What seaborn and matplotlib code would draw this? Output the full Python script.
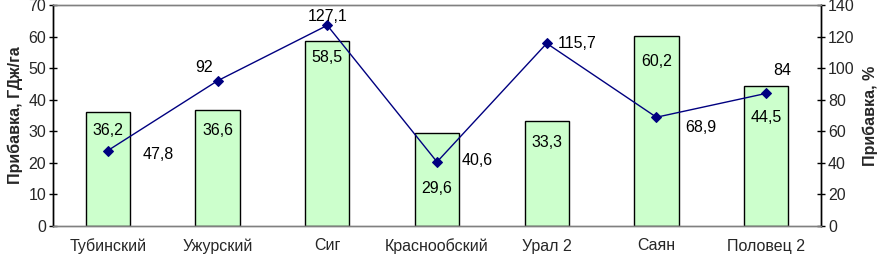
import matplotlib
matplotlib.use("Agg")
import matplotlib.pyplot as plt
import seaborn as sns
import pandas as pd

categories = ["Тубинский", "Ужурский", "Сиг", "Краснообский", "Урал 2", "Саян", "Половец 2"]
gain_gj = [36.2, 36.6, 58.5, 29.6, 33.3, 60.2, 44.5]
gain_pct = [47.8, 92, 127.1, 40.6, 115.7, 68.9, 84]
bar_labels = ["36,2", "36,6", "58,5", "29,6", "33,3", "60,2", "44,5"]
pct_labels = ["47,8", "92", "127,1", "40,6", "115,7", "68,9", "84"]

# label placement (style)
bar_label_y = [30.4, 30.1, 53.5, 12.0, 26.3, 52.0, 34.5]
pct_label_dx = [0.46, -0.12, 0.0, 0.37, 0.28, 0.40, 0.15]
pct_label_y = [45.0, 100.1, 132.4, 41.2, 115.9, 62.1, 98.8]

sns.set_style("white")
plt.rcParams['font.family'] = ['Liberation Sans', 'DejaVu Sans']

df = pd.DataFrame({"cat": categories, "gj": gain_gj, "pct": gain_pct})

fig = plt.figure(figsize=(8.84, 2.59), dpi=100)
ax = fig.add_axes([53/884, 33/259, 768/884, 221/259])
sns.barplot(data=df, x="cat", y="gj", ax=ax, color="#CCFFCC", edgecolor="black",
            linewidth=1.0, width=0.404, saturation=1)
ax.set_ylim(0, 70)
ax.set_xlim(-0.5, len(categories) - 0.5)
ax.set_yticks(range(0, 71, 10))
ax.set_xlabel("")
ax.set_ylabel("Прибавка, ГДж/га", fontsize=11.5, fontweight="bold", labelpad=4)

for i, (lab, yy) in enumerate(zip(bar_labels, bar_label_y)):
    ax.text(i, yy, lab, ha="center", va="center", fontsize=11.5, color="black")

ax2 = ax.twinx()
sns.lineplot(data=df, x="cat", y="pct", ax=ax2, sort=False, color="#000080",
             linewidth=1.0, marker="D", markersize=5, markeredgecolor="#000080")
ax2.set_ylim(0, 140)
ax2.set_yticks(range(0, 141, 20))
ax2.set_xlim(-0.5, len(categories) - 0.5)
ax2.set_ylabel("Прибавка, %", fontsize=11.5, fontweight="bold", labelpad=6)
ax2.set_xlabel("")

for i, (lab, dx, yy) in enumerate(zip(pct_labels, pct_label_dx, pct_label_y)):
    ax2.text(i + dx, yy, lab, ha="center", va="center", fontsize=11.5, color="black")

# spines
for a in (ax, ax2):
    a.spines["top"].set_color("#808080")
    a.spines["bottom"].set_color("#808080")
    a.spines["left"].set_color("black")
    a.spines["right"].set_color("black")
    for s in a.spines.values():
        s.set_linewidth(1.0)

ax.tick_params(axis="y", direction="inout", length=6, width=1, labelsize=11.5, pad=2, color="black")
ax2.tick_params(axis="y", direction="inout", length=6, width=1, labelsize=11.5, pad=2, color="black")

# x ticks between categories
ax.set_xticks([i - 0.5 for i in range(len(categories) + 1)], minor=False)
ax.set_xticklabels([""] * (len(categories) + 1))
ax.set_xticks(range(len(categories)), minor=True)
ax.set_xticklabels(categories, minor=True)
ax.tick_params(axis="x", which="major", direction="out", length=5, width=1, color="black")
ax.tick_params(axis="x", which="minor", length=0, labelsize=11.5, pad=9)
ax2.tick_params(axis="x", which="both", length=0, labelbottom=False)

fig.savefig("out.png", dpi=100)
